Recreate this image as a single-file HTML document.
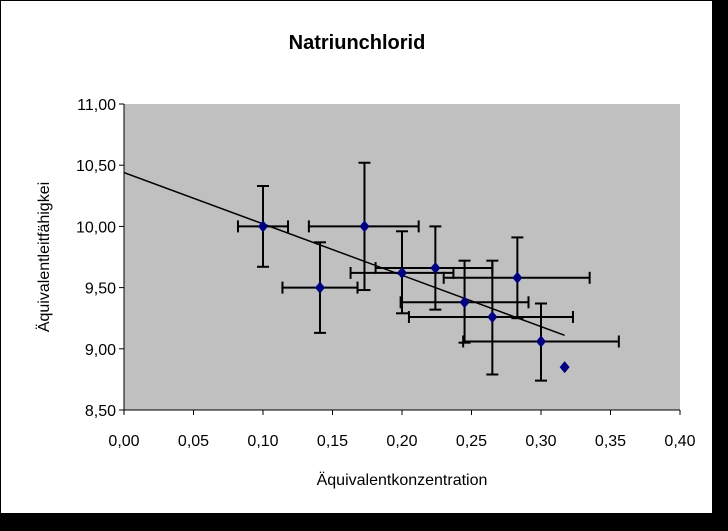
<!DOCTYPE html>
<html><head><meta charset="utf-8"><style>
html,body{margin:0;padding:0;background:#000;width:728px;height:531px;overflow:hidden}
svg{display:block;font-family:"Liberation Sans",Arial,sans-serif}
</style></head><body>
<svg id="chart" width="728" height="531">
<rect x="1" y="1" width="711" height="512" fill="#fff"/>
<text x="357" y="49" text-anchor="middle" font-size="20" font-weight="bold">Natriunchlorid</text>
<rect x="124" y="104" width="556" height="306" fill="#c0c0c0"/>
<g id="ax"></g><g id="marks"></g>
<text x="402" y="485" text-anchor="middle" font-size="16">Äquivalentkonzentration</text>
<text transform="translate(49,257) rotate(-90)" text-anchor="middle" font-size="16">Äquivalentleitfähigkei</text>
</svg>
<script>
const xVals=[0.100,0.141,0.173,0.200,0.224,0.245,0.265,0.283,0.300,0.317];
const yVals=[10.00,9.50,10.00,9.62,9.66,9.38,9.26,9.58,9.06,8.85];
const xLo=[0.082,0.114,0.133,0.163,0.181,0.199,0.205,0.230,0.244,null];
const xHi=[0.118,0.168,0.212,0.237,0.265,0.291,0.323,0.335,0.356,null];
const yLo=[9.67,9.13,9.48,9.29,9.32,9.05,8.79,9.25,8.74,null];
const yHi=[10.33,9.87,10.52,9.96,10.00,9.72,9.72,9.91,9.37,null];
const trendX=[0,0.317];
const trendY=[10.44,9.11];
const xTicks=[0,0.05,0.10,0.15,0.20,0.25,0.30,0.35,0.40];
const yTicks=[8.5,9.0,9.5,10.0,10.5,11.0];
const NS="http://www.w3.org/2000/svg";
const X=v=>124+(v-0)/0.4*556;
const Y=v=>410-(v-8.5)/2.5*306;
function mk(p,t,a){const e=document.createElementNS(NS,t);for(const k in a)e.setAttribute(k,a[k]);p.appendChild(e);return e;}
const ax=document.getElementById('ax'),mg=document.getElementById('marks');
const fmt=v=>v.toFixed(2).replace('.',',');
let l=mk(ax,'line',{x1:124,y1:104,x2:124,y2:410,stroke:'#000'});


l=mk(ax,'line',{x1:124,y1:410,x2:680,y2:410,stroke:'#000'});


xTicks.forEach(v=>{const x=X(v);
 mk(ax,'line',{x1:x,y1:410,x2:x,y2:415,stroke:'#000'});
 const t=mk(ax,'text',{x:x,y:446,'text-anchor':'middle','font-size':16});t.textContent=fmt(v);
 
 });
yTicks.forEach(v=>{const y=Y(v);
 mk(ax,'line',{x1:119,y1:y,x2:124,y2:y,stroke:'#000'});
 const t=mk(ax,'text',{x:116,y:y+6,'text-anchor':'end','font-size':16});t.textContent=fmt(v);
 
 });
const tl=mk(mg,'line',{x1:X(trendX[0]),y1:Y(trendY[0]),x2:X(trendX[1]),y2:Y(trendY[1]),stroke:'#000','stroke-width':1.5});


xVals.forEach((xv,i)=>{const x=X(xv),y=Y(yVals[i]);
 if(xLo[i]!==null){
  const g=mk(mg,'g',{stroke:'#000','stroke-width':2,fill:'none'});
  
  
  mk(g,'line',{x1:X(xLo[i]),y1:y,x2:X(xHi[i]),y2:y});
  mk(g,'line',{x1:X(xLo[i]),y1:y-6,x2:X(xLo[i]),y2:y+6});
  mk(g,'line',{x1:X(xHi[i]),y1:y-6,x2:X(xHi[i]),y2:y+6});
  mk(g,'line',{x1:x,y1:Y(yLo[i]),x2:x,y2:Y(yHi[i])});
  mk(g,'line',{x1:x-6,y1:Y(yLo[i]),x2:x+6,y2:Y(yLo[i])});
  mk(g,'line',{x1:x-6,y1:Y(yHi[i]),x2:x+6,y2:Y(yHi[i])});
 }
});
xVals.forEach((xv,i)=>{const x=X(xv),y=Y(yVals[i]);
 const p=mk(mg,'polygon',{points:`${x},${y-6} ${x+5},${y} ${x},${y+6} ${x-5},${y}`,fill:'#000080'});
 
 
});
</script>
</body></html>
